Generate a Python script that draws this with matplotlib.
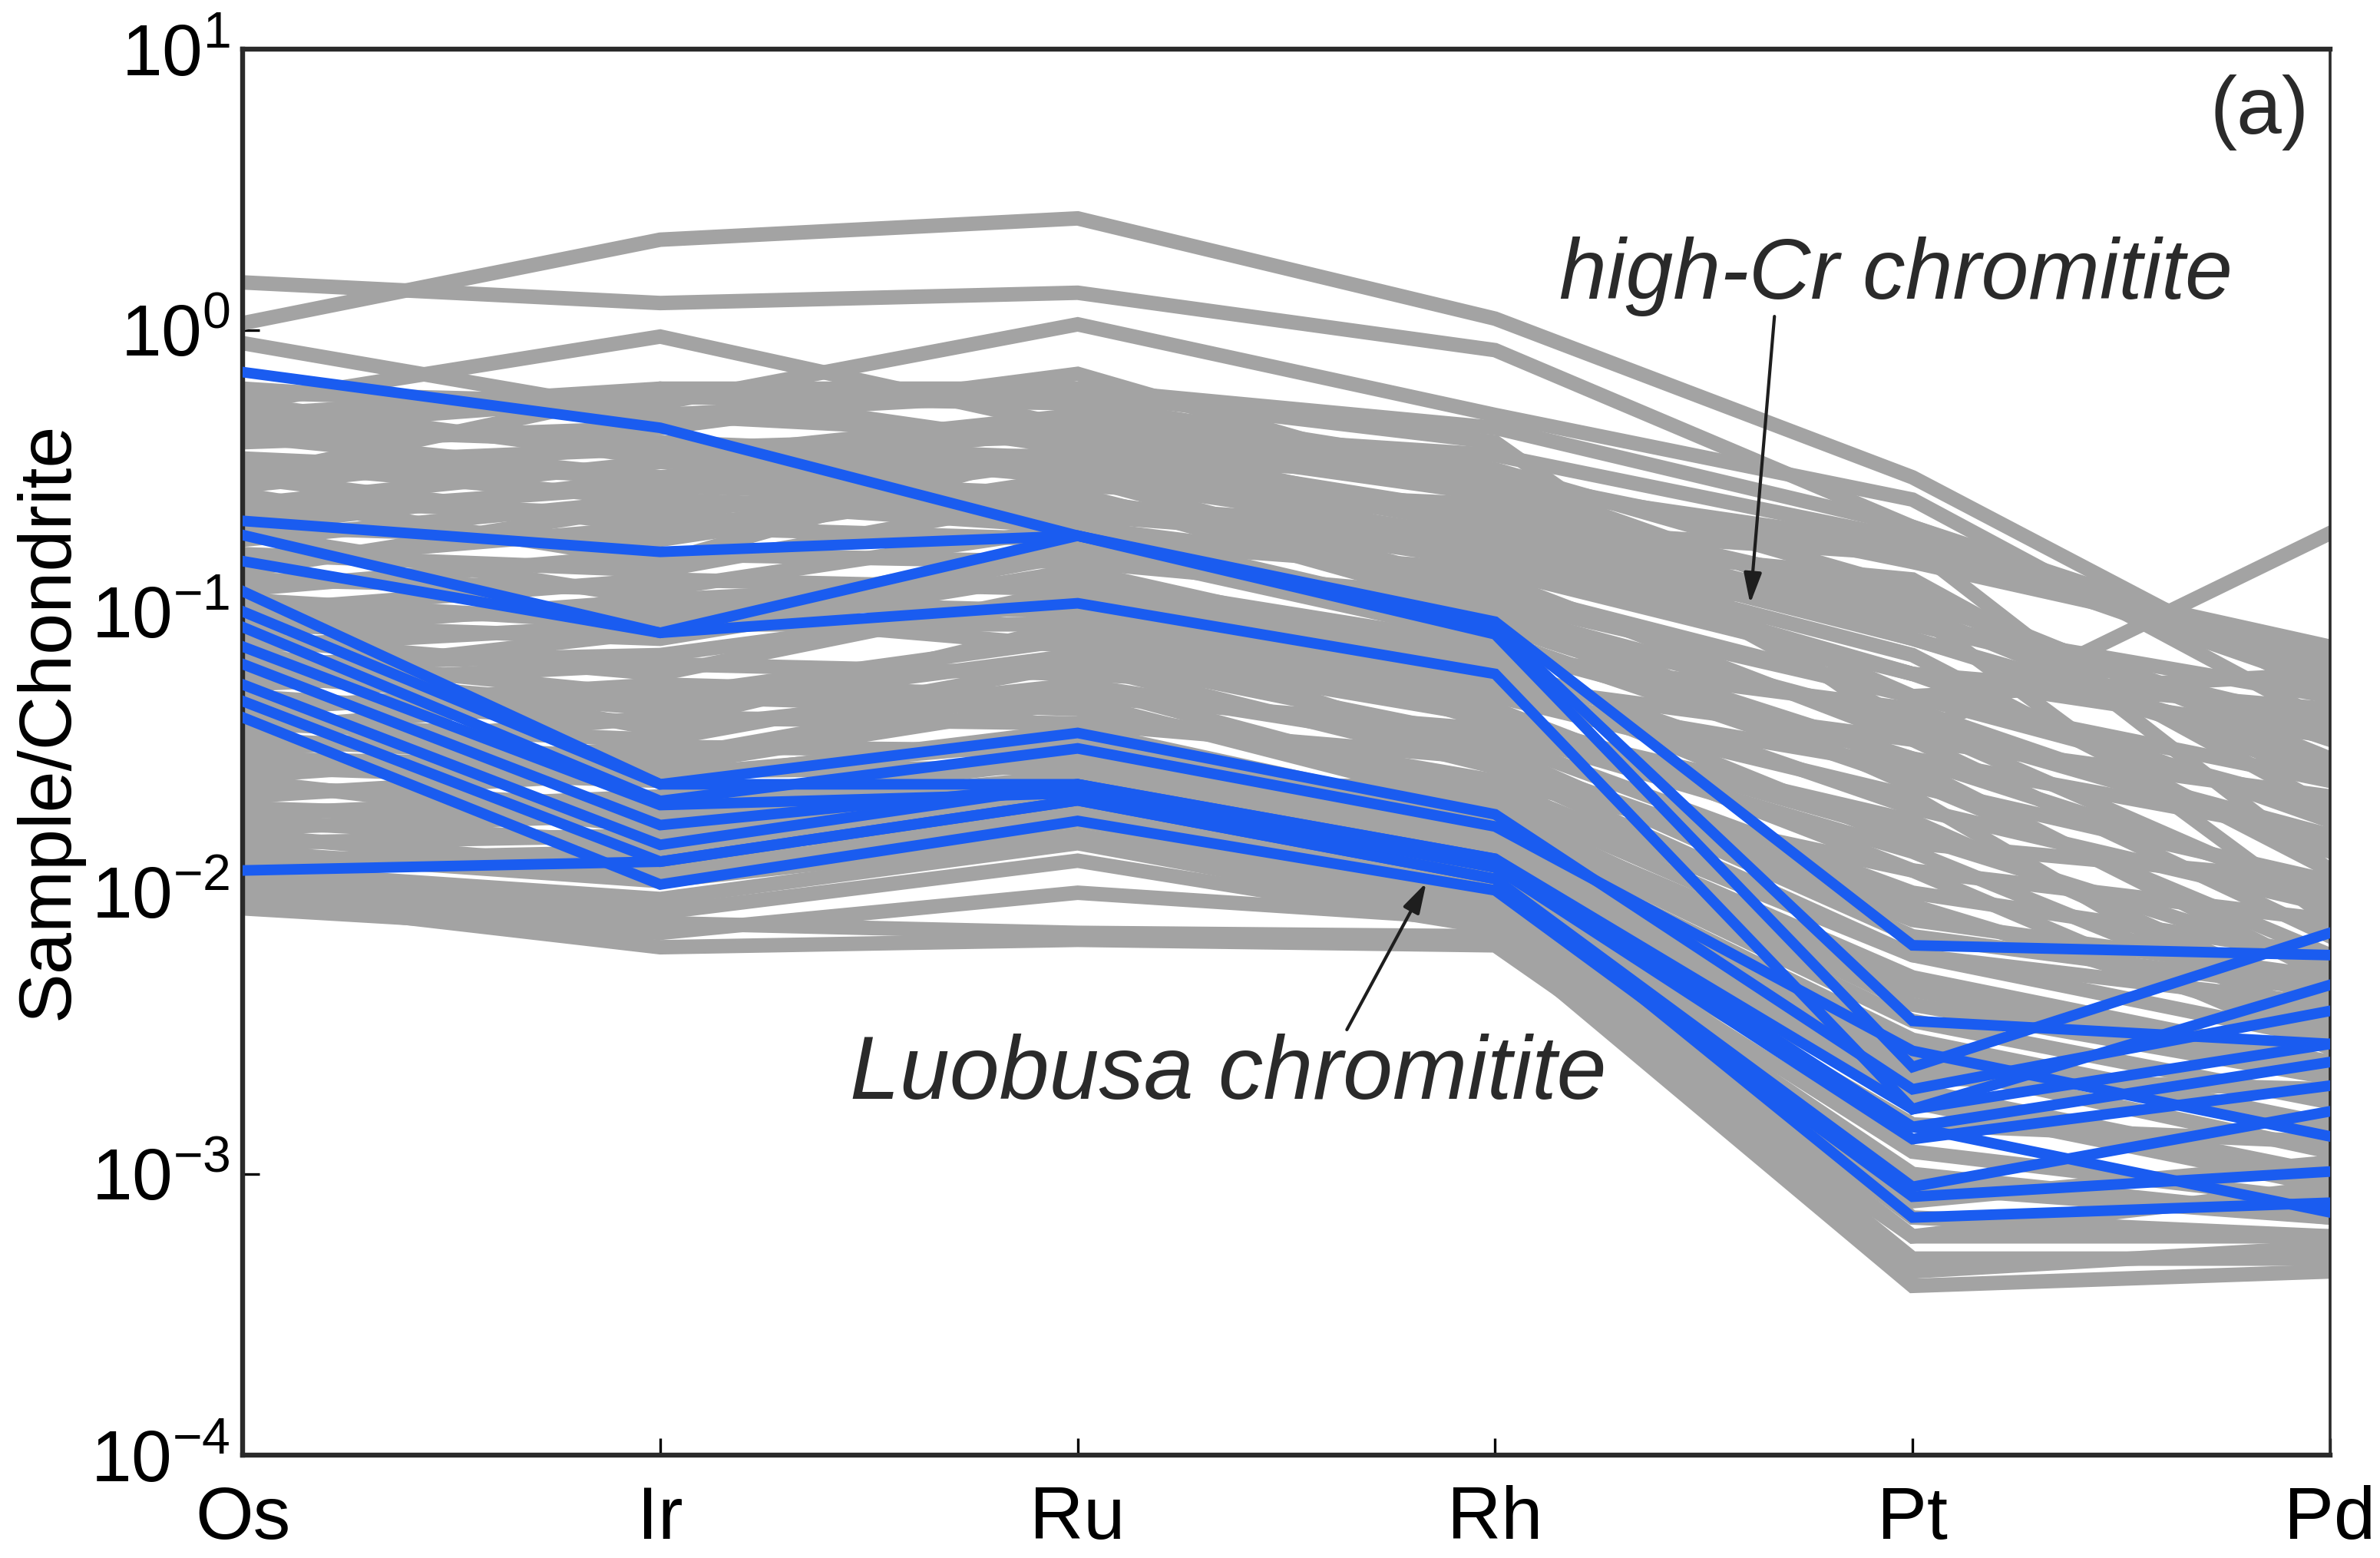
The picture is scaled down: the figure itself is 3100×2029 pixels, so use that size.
import matplotlib
matplotlib.use("Agg")
import numpy as np
from matplotlib import pyplot as plt

# elements along the x axis
elements = ["Os", "Ir", "Ru", "Rh", "Pt", "Pd"]

# high-Cr chromitite patterns (grey), values normalised to chondrite
high_cr = [
    [1.06, 2.10, 2.50, 1.10, 0.30, 0.050],
    [1.48, 1.25, 1.36, 0.85, 0.20, 0.060],
    [0.90, 0.50, 0.60, 0.40, 0.036, 0.190],
    [0.55, 0.95, 0.45, 0.30, 0.15, 0.070],
    [0.60, 0.55, 1.05, 0.50, 0.25, 0.040],
    [0.50, 0.62, 0.62, 0.45, 0.20, 0.065],
    [0.45, 0.58, 0.55, 0.32, 0.12, 0.030],
    [0.40, 0.45, 0.70, 0.26, 0.10, 0.025],
    [0.55, 0.35, 0.50, 0.28, 0.17, 0.012],
    [0.35, 0.30, 0.45, 0.36, 0.18, 0.055],
    [0.30, 0.62, 0.38, 0.22, 0.09, 0.040],
    [0.28, 0.40, 0.30, 0.18, 0.13, 0.020],
    [0.33, 0.38, 0.42, 0.20, 0.16, 0.075],
    [0.24, 0.34, 0.36, 0.30, 0.09, 0.050],
    [0.20, 0.30, 0.33, 0.22, 0.05, 0.060],
    [0.45, 0.40, 0.35, 0.14, 0.06, 0.036],
    [0.14, 0.24, 0.24, 0.19, 0.08, 0.028],
    [0.62, 0.50, 0.42, 0.26, 0.04, 0.016],
    [0.25, 0.22, 0.35, 0.20, 0.08, 0.030],
    [0.22, 0.28, 0.25, 0.15, 0.06, 0.018],
    [0.20, 0.18, 0.30, 0.12, 0.05, 0.025],
    [0.18, 0.25, 0.22, 0.17, 0.07, 0.012],
    [0.16, 0.14, 0.26, 0.10, 0.04, 0.015],
    [0.15, 0.20, 0.18, 0.14, 0.10, 0.008],
    [0.13, 0.12, 0.20, 0.09, 0.03, 0.010],
    [0.12, 0.16, 0.15, 0.11, 0.05, 0.020],
    [0.11, 0.09, 0.17, 0.08, 0.025, 0.006],
    [0.10, 0.13, 0.12, 0.07, 0.045, 0.014],
    [0.30, 0.20, 0.28, 0.24, 0.11, 0.035],
    [0.26, 0.15, 0.40, 0.16, 0.06, 0.045],
    [0.19, 0.11, 0.13, 0.075, 0.03, 0.016],
    [0.34, 0.25, 0.20, 0.13, 0.035, 0.022],
    [0.42, 0.30, 0.26, 0.11, 0.024, 0.011],
    [0.09, 0.08, 0.14, 0.065, 0.02, 0.009],
    [0.095, 0.10, 0.075, 0.042, 0.016, 0.0055],
    [0.085, 0.11, 0.10, 0.055, 0.035, 0.007],
    [0.08, 0.06, 0.12, 0.06, 0.015, 0.011],
    [0.075, 0.09, 0.09, 0.05, 0.028, 0.005],
    [0.072, 0.038, 0.055, 0.032, 0.007, 0.0045],
    [0.07, 0.05, 0.08, 0.045, 0.012, 0.008],
    [0.065, 0.07, 0.11, 0.04, 0.018, 0.004],
    [0.06, 0.045, 0.07, 0.035, 0.010, 0.006],
    [0.058, 0.085, 0.16, 0.095, 0.04, 0.009],
    [0.055, 0.065, 0.06, 0.05, 0.022, 0.003],
    [0.05, 0.04, 0.09, 0.03, 0.008, 0.005],
    [0.045, 0.055, 0.05, 0.038, 0.014, 0.0035],
    [0.045, 0.026, 0.035, 0.019, 0.0045, 0.0024],
    [0.04, 0.035, 0.065, 0.028, 0.006, 0.004],
    [0.038, 0.05, 0.045, 0.025, 0.012, 0.0028],
    [0.035, 0.03, 0.055, 0.022, 0.005, 0.0025],
    [0.032, 0.042, 0.04, 0.03, 0.009, 0.0032],
    [0.03, 0.028, 0.048, 0.02, 0.004, 0.0022],
    [0.028, 0.025, 0.038, 0.018, 0.0035, 0.0018],
    [0.026, 0.033, 0.032, 0.016, 0.003, 0.0015],
    [0.025, 0.017, 0.024, 0.024, 0.006, 0.003],
    [0.024, 0.02, 0.03, 0.015, 0.0025, 0.0012],
    [0.022, 0.027, 0.028, 0.014, 0.0022, 0.0020],
    [0.02, 0.018, 0.025, 0.013, 0.002, 0.0010],
    [0.019, 0.022, 0.022, 0.012, 0.0018, 0.0009],
    [0.018, 0.015, 0.02, 0.011, 0.0015, 0.0013],
    [0.017, 0.019, 0.026, 0.0105, 0.0012, 0.0008],
    [0.016, 0.012, 0.018, 0.010, 0.0010, 0.0007],
    [0.015, 0.016, 0.021, 0.0095, 0.0008, 0.0011],
    [0.014, 0.011, 0.016, 0.009, 0.0007, 0.0006],
    [0.013, 0.014, 0.019, 0.0085, 0.0006, 0.0009],
    [0.012, 0.0095, 0.015, 0.008, 0.0005, 0.0005],
    [0.011, 0.0085, 0.013, 0.0075, 0.00045, 0.00055],
    [0.010, 0.0078, 0.0072, 0.0070, 0.0004, 0.00045],
    [0.0095, 0.0064, 0.0068, 0.0065, 0.0006, 0.0006],
    [0.0088, 0.0072, 0.010, 0.0080, 0.0009, 0.0007],
]

# Luobusa chromitite patterns (blue)
luobusa = [
    [0.71, 0.45, 0.186, 0.092, 0.0065, 0.0060],
    [0.21, 0.163, 0.186, 0.083, 0.0024, 0.0072],
    [0.187, 0.084, 0.186, 0.088, 0.0035, 0.0029],
    [0.151, 0.084, 0.107, 0.060, 0.0017, 0.0047],
    [0.118, 0.0243, 0.037, 0.019, 0.0020, 0.0038],
    [0.088, 0.0212, 0.0326, 0.0172, 0.00274, 0.00136],
    [0.065, 0.0174, 0.0243, 0.0132, 0.00147, 0.0025],
    [0.055, 0.0148, 0.0243, 0.0123, 0.00133, 0.00206],
    [0.048, 0.0129, 0.0213, 0.0112, 0.0009, 0.00167],
    [0.042, 0.0107, 0.018, 0.0102, 0.00083, 0.00102],
    [0.012, 0.0129, 0.0213, 0.0112, 0.0007, 0.00079],
    [0.075, 0.0205, 0.0226, 0.0123, 0.00147, 0.00073],
    [0.100, 0.0243, 0.0243, 0.0132, 0.0017, 0.0029],
]

plt.rcParams["font.family"] = ["Liberation Sans", "DejaVu Sans"]
plt.rcParams["mathtext.fontset"] = "custom"
plt.rcParams["mathtext.rm"] = "Liberation Sans"

fig = plt.figure(figsize=(15.5, 10.145), dpi=200)
ax = fig.add_axes([0.102, 0.066, 0.877, 0.9025])

x = np.arange(len(elements))
for row in high_cr:
    ax.plot(x, row, color="#a3a3a3", lw=6.8, solid_joinstyle="miter", zorder=2)
for row in luobusa:
    ax.plot(x, row, color="#1a5cf0", lw=5.0, solid_joinstyle="miter", zorder=3)

ax.set_yscale("log")
ax.set_ylim(1e-4, 1e1)
ax.set_xlim(0, len(elements) - 1)

ax.set_xticks(x)
ax.set_xticklabels(elements, fontsize=35)
ax.set_yticks([1e-4, 1e-3, 1e-2, 1e-1, 1e0, 1e1])
ax.set_yticklabels([r"$10^{-4}$", r"$10^{-3}$", r"$10^{-2}$", r"$10^{-1}$",
                    r"$10^{0}$", r"$10^{1}$"], fontsize=34)
ax.yaxis.set_minor_locator(matplotlib.ticker.NullLocator())
ax.tick_params(axis="x", direction="in", length=8, width=1.2, pad=14)
ax.tick_params(axis="y", direction="in", length=8, width=1.2, pad=6)

for side in ["left", "bottom", "top"]:
    ax.spines[side].set_linewidth(2.3)
    ax.spines[side].set_color("#2a2a2a")
ax.spines["right"].set_linewidth(1.3)
ax.spines["right"].set_color("#2a2a2a")

ax.set_ylabel("Sample/Chondrite", fontsize=35)
ax.yaxis.set_label_coords(-0.0765, 0.522)

# labels and arrows
ax.annotate("", xy=(3.61, 0.103), xytext=(3.67, 1.16),
            arrowprops=dict(arrowstyle="-|>,head_length=1.2,head_width=0.35",
                            color="#1e1e1e", lw=1.5), zorder=5)
ax.text(3.96, 1.55, "high-Cr chromitite", fontsize=40, style="italic",
        color="#2a2a2a", ha="center", va="center", zorder=6)

ax.annotate("", xy=(2.84, 0.0112), xytext=(2.64, 0.00316),
            arrowprops=dict(arrowstyle="-|>,head_length=1.2,head_width=0.35",
                            color="#1e1e1e", lw=1.5), zorder=5)
ax.text(2.36, 0.00224, "Luobusa chromitite", fontsize=42, style="italic",
        color="#2a2a2a", ha="center", va="center", zorder=6)

ax.text(0.99, 0.955, "(a)", transform=ax.transAxes, fontsize=38,
        color="#2a2a2a", ha="right", va="center")

fig.savefig("out.png", dpi=200)
